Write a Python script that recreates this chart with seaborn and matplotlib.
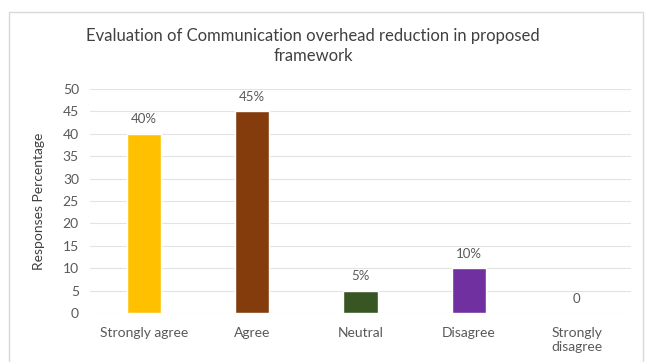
import matplotlib
matplotlib.use("Agg")
import matplotlib.pyplot as plt
import seaborn as sns
import pandas as pd
from matplotlib.patches import Rectangle

categories = ["Strongly agree", "Agree", "Neutral", "Disagree", "Strongly\ndisagree"]
values = [40, 45, 5, 10, 0]
labels = ["40%", "45%", "5%", "10%", "0"]
colors = ["#FFC000", "#843C0C", "#375623", "#7030A0", "#A5A5A5"]
yticks = [0, 5, 10, 15, 20, 25, 30, 35, 40, 45, 50]

sns.set_theme(style="white")
plt.rcParams['font.family'] = ['Lato', 'DejaVu Sans']

df = pd.DataFrame({"cat": categories, "val": values})

fig = plt.figure(figsize=(6.53, 3.62), dpi=100)
fig.patch.set_facecolor("white")
fig.add_artist(Rectangle((9/653, -0.05), (643-9)/653, 1.05 - 12/362,
                         transform=fig.transFigure, fill=False,
                         edgecolor="#D9D9D9", linewidth=1.0))

ax = fig.add_axes([90/653, 1 - 313/362, (631-90)/653, (313-89)/362])
sns.barplot(data=df, x="cat", y="val", hue="cat", palette=colors,
            legend=False, width=0.315, ax=ax, saturation=1)

ax.set_ylim(0, 50)
ax.set_yticks(yticks)
ax.set_yticklabels([str(t) for t in yticks], color="#595959", fontsize=10)
ax.tick_params(axis="x", colors="#595959", labelsize=10, length=0, pad=10)
ax.tick_params(axis="y", length=0, pad=8)
ax.set_xlabel("")
ax.set_ylabel("Responses Percentage", color="#404040", fontsize=10)
ax.yaxis.set_label_coords((45 - 90) / 541, 0.5)
ax.yaxis.grid(True, color="#E3E3E3", linewidth=0.8)
ax.set_axisbelow(True)
for s in ax.spines.values():
    s.set_visible(False)

for i, (v, lab) in enumerate(zip(values, labels)):
    ax.annotate(lab, (i, v), xytext=(0, 6), textcoords="offset points",
                ha="center", va="bottom", fontsize=9.5, color="#595959")

fig.text(313/653, 1 - 46/362, "Evaluation of Communication overhead reduction in proposed\nframework",
         ha="center", va="center", fontsize=12, color="#404040", linespacing=1.3)

fig.savefig("out.png", dpi=100)
